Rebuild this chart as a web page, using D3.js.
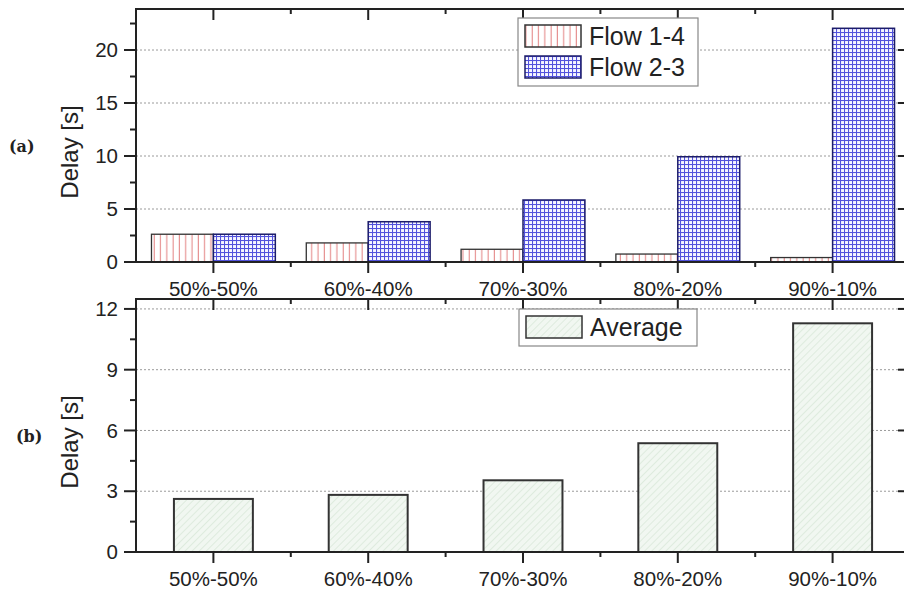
<!DOCTYPE html>
<html><head><meta charset="utf-8">
<script src="https://cdn.jsdelivr.net/npm/d3@7"></script>
<style>
html,body{margin:0;padding:0;background:#fff;}
svg{display:block;}
text{font-family:"Liberation Sans",Arial,sans-serif;fill:#222;}
</style></head>
<body>
<svg id="chart" width="904" height="591"></svg>
<script>
const categories = ["50%-50%","60%-40%","70%-30%","80%-20%","90%-10%"];
const flow14 = [2.62, 1.8, 1.2, 0.75, 0.42];
const flow23 = [2.62, 3.8, 5.85, 9.93, 22.05];
const average = [2.62, 2.82, 3.54, 5.37, 11.29];
const ticksA = [0, 5, 10, 15, 20];
const ticksB = [0, 3, 6, 9, 12];
const seriesNames = ["Flow 1-4", "Flow 2-3", "Average"];

const svg = d3.select("#chart");
const defs = svg.append("defs");

// patterns
const pRed = defs.append("pattern").attr("id","pRed").attr("patternUnits","userSpaceOnUse").attr("width",6.3).attr("height",10);
pRed.append("rect").attr("width",6.3).attr("height",10).attr("fill","#fff");
pRed.append("line").attr("x1",3).attr("x2",3).attr("y1",0).attr("y2",10).attr("stroke","#e38080").attr("stroke-width",1);

const pBlue = defs.append("pattern").attr("id","pBlue").attr("patternUnits","userSpaceOnUse").attr("width",4).attr("height",4);
pBlue.append("rect").attr("width",4).attr("height",4).attr("fill","#f6f6ff");
pBlue.append("line").attr("x1",0.5).attr("x2",0.5).attr("y1",0).attr("y2",4).attr("stroke","#5252dc").attr("stroke-width",1.1);
pBlue.append("line").attr("y1",0.5).attr("y2",0.5).attr("x1",0).attr("x2",4).attr("stroke","#5252dc").attr("stroke-width",1.1);

const pGreen = defs.append("pattern").attr("id","pGreen").attr("patternUnits","userSpaceOnUse").attr("width",5).attr("height",5).attr("patternTransform","rotate(45)");
pGreen.append("rect").attr("width",5).attr("height",5).attr("fill","#f1f7f1");
pGreen.append("line").attr("x1",0).attr("x2",0).attr("y1",0).attr("y2",5).attr("stroke","#d2e4d2").attr("stroke-width",1.2);

const X0 = 136, X1 = 910;
const x = d3.scaleBand().domain(categories).range([X0, X1]).padding(0);

function panel(cfg) {
  const y = d3.scaleLinear().domain(cfg.domain).range([cfg.bottom, cfg.top]);
  const g = svg.append("g");
  // gridlines
  g.selectAll("line.grid").data(cfg.ticks.filter(t => t > 0)).join("line")
    .attr("x1", X0).attr("x2", X1).attr("y1", d => y(d)).attr("y2", d => y(d))
    .attr("stroke", "#9a9a9a").attr("stroke-width", 1).attr("stroke-dasharray", "2,2");
  cfg.drawBars(g, y);
  // frame
  g.append("rect").attr("x", X0).attr("y", cfg.top).attr("width", X1 - X0).attr("height", cfg.bottom - cfg.top)
    .attr("fill", "none").attr("stroke", "#222").attr("stroke-width", 2);
  // left axis
  const step = cfg.ticks[1] - cfg.ticks[0];
  const minors = d3.range(cfg.domain[0] + step/2, cfg.domain[1], step);
  g.selectAll("line.ym").data(cfg.ticks).join("line")
    .attr("x1", X0 - 12).attr("x2", X0).attr("y1", d => y(d)).attr("y2", d => y(d))
    .attr("stroke", "#222").attr("stroke-width", 2);
  g.selectAll("line.yn").data(minors).join("line")
    .attr("x1", X0 - 6).attr("x2", X0).attr("y1", d => y(d)).attr("y2", d => y(d))
    .attr("stroke", "#222").attr("stroke-width", 2);
  // right axis inward ticks
  g.selectAll("line.yr").data(cfg.ticks).join("line")
    .attr("x1", X1 - 12).attr("x2", X1).attr("y1", d => y(d)).attr("y2", d => y(d))
    .attr("stroke", "#222").attr("stroke-width", 2);
  g.selectAll("text.yl").data(cfg.ticks).join("text")
    .attr("x", X0 - 18).attr("y", d => y(d)).attr("dy", "0.35em")
    .attr("text-anchor", "end").attr("font-size", 20.5).text(d => d);
  // x ticks bottom (outward) and top (inward)
  const centers = categories.map(c => x(c) + x.bandwidth()/2);
  const bounds = categories.slice(1).map(c => x(c));
  g.selectAll("line.xb").data(centers).join("line")
    .attr("x1", d => d).attr("x2", d => d).attr("y1", cfg.bottom).attr("y2", cfg.bottom + 11)
    .attr("stroke", "#222").attr("stroke-width", 2);
  g.selectAll("line.xbm").data(bounds).join("line")
    .attr("x1", d => d).attr("x2", d => d).attr("y1", cfg.bottom).attr("y2", cfg.bottom + 5)
    .attr("stroke", "#222").attr("stroke-width", 2);
  g.selectAll("line.xt").data(centers).join("line")
    .attr("x1", d => d).attr("x2", d => d).attr("y1", cfg.top).attr("y2", cfg.top + 11)
    .attr("stroke", "#222").attr("stroke-width", 2);
  g.selectAll("line.xtm").data(bounds).join("line")
    .attr("x1", d => d).attr("x2", d => d).attr("y1", cfg.top).attr("y2", cfg.top + 5)
    .attr("stroke", "#222").attr("stroke-width", 2);
  g.selectAll("text.xl").data(categories).join("text")
    .attr("x", c => x(c) + x.bandwidth()/2).attr("y", cfg.bottom + 34)
    .attr("text-anchor", "middle").attr("font-size", 20.5).text(c => c);
  // y title
  g.append("text").attr("transform", `translate(78,${cfg.titleY}) rotate(-90)`)
    .attr("text-anchor", "middle").attr("font-size", 24).text("Delay [s]");
  // panel label
  g.append("text").attr("x", cfg.labX).attr("y", cfg.labY)
    .style("font-family", "'DejaVu Serif','Liberation Serif',serif")
    .attr("font-size", 16).attr("font-weight", "bold").attr("fill", "#333")
    .text(cfg.label);
  return y;
}

// Panel (a)
panel({
  domain: [0, 23.87], top: 9, bottom: 262, ticks: ticksA, titleY: 152, label: "(a)", labX: 9, labY: 152,
  drawBars: (g, y) => {
    const bw = x.bandwidth() * 0.4;
    g.selectAll("rect.r").data(flow14).join("rect")
      .attr("x", (d, i) => x(categories[i]) + x.bandwidth()/2 - bw)
      .attr("y", d => y(d)).attr("width", bw).attr("height", d => y(0) - y(d))
      .attr("fill", "url(#pRed)").attr("stroke", "#333").attr("stroke-width", 1.3);
    g.selectAll("rect.b").data(flow23).join("rect")
      .attr("x", (d, i) => x(categories[i]) + x.bandwidth()/2)
      .attr("y", d => y(d)).attr("width", bw).attr("height", d => y(0) - y(d))
      .attr("fill", "url(#pBlue)").attr("stroke", "#1c1c6a").attr("stroke-width", 1.5);
  }
});

// Panel (b)
panel({
  domain: [0, 12.49], top: 299, bottom: 552, ticks: ticksB, titleY: 442, label: "(b)", labX: 16, labY: 442,
  drawBars: (g, y) => {
    const bw = x.bandwidth() * 0.51;
    g.selectAll("rect.a").data(average).join("rect")
      .attr("x", (d, i) => x(categories[i]) + x.bandwidth()/2 - bw/2)
      .attr("y", d => y(d)).attr("width", bw).attr("height", d => y(0) - y(d))
      .attr("fill", "url(#pGreen)").attr("stroke", "#333").attr("stroke-width", 2);
  }
});

// Legends
function legend(x0, y0, w, items) {
  const g = svg.append("g");
  g.append("rect").attr("x", x0).attr("y", y0).attr("width", w).attr("height", items.length * 31 + 6)
    .attr("fill", "#fff").attr("stroke", "#888").attr("stroke-width", 1.2);
  items.forEach((it, i) => {
    g.append("rect").attr("x", x0 + 7).attr("y", y0 + 7 + i * 31).attr("width", 56).attr("height", 22)
      .attr("fill", it.fill).attr("stroke", it.stroke).attr("stroke-width", 1.5);
    g.append("text").attr("x", x0 + 71).attr("y", y0 + 27 + i * 31)
      .attr("font-size", 25).text(it.name);
  });
}
legend(518, 18, 180, [
  {name: seriesNames[0], fill: "url(#pRed)", stroke: "#333"},
  {name: seriesNames[1], fill: "url(#pBlue)", stroke: "#1c1c6a"}
]);
legend(519, 309, 178, [
  {name: seriesNames[2], fill: "url(#pGreen)", stroke: "#333"}
]);
</script>
</body></html>
